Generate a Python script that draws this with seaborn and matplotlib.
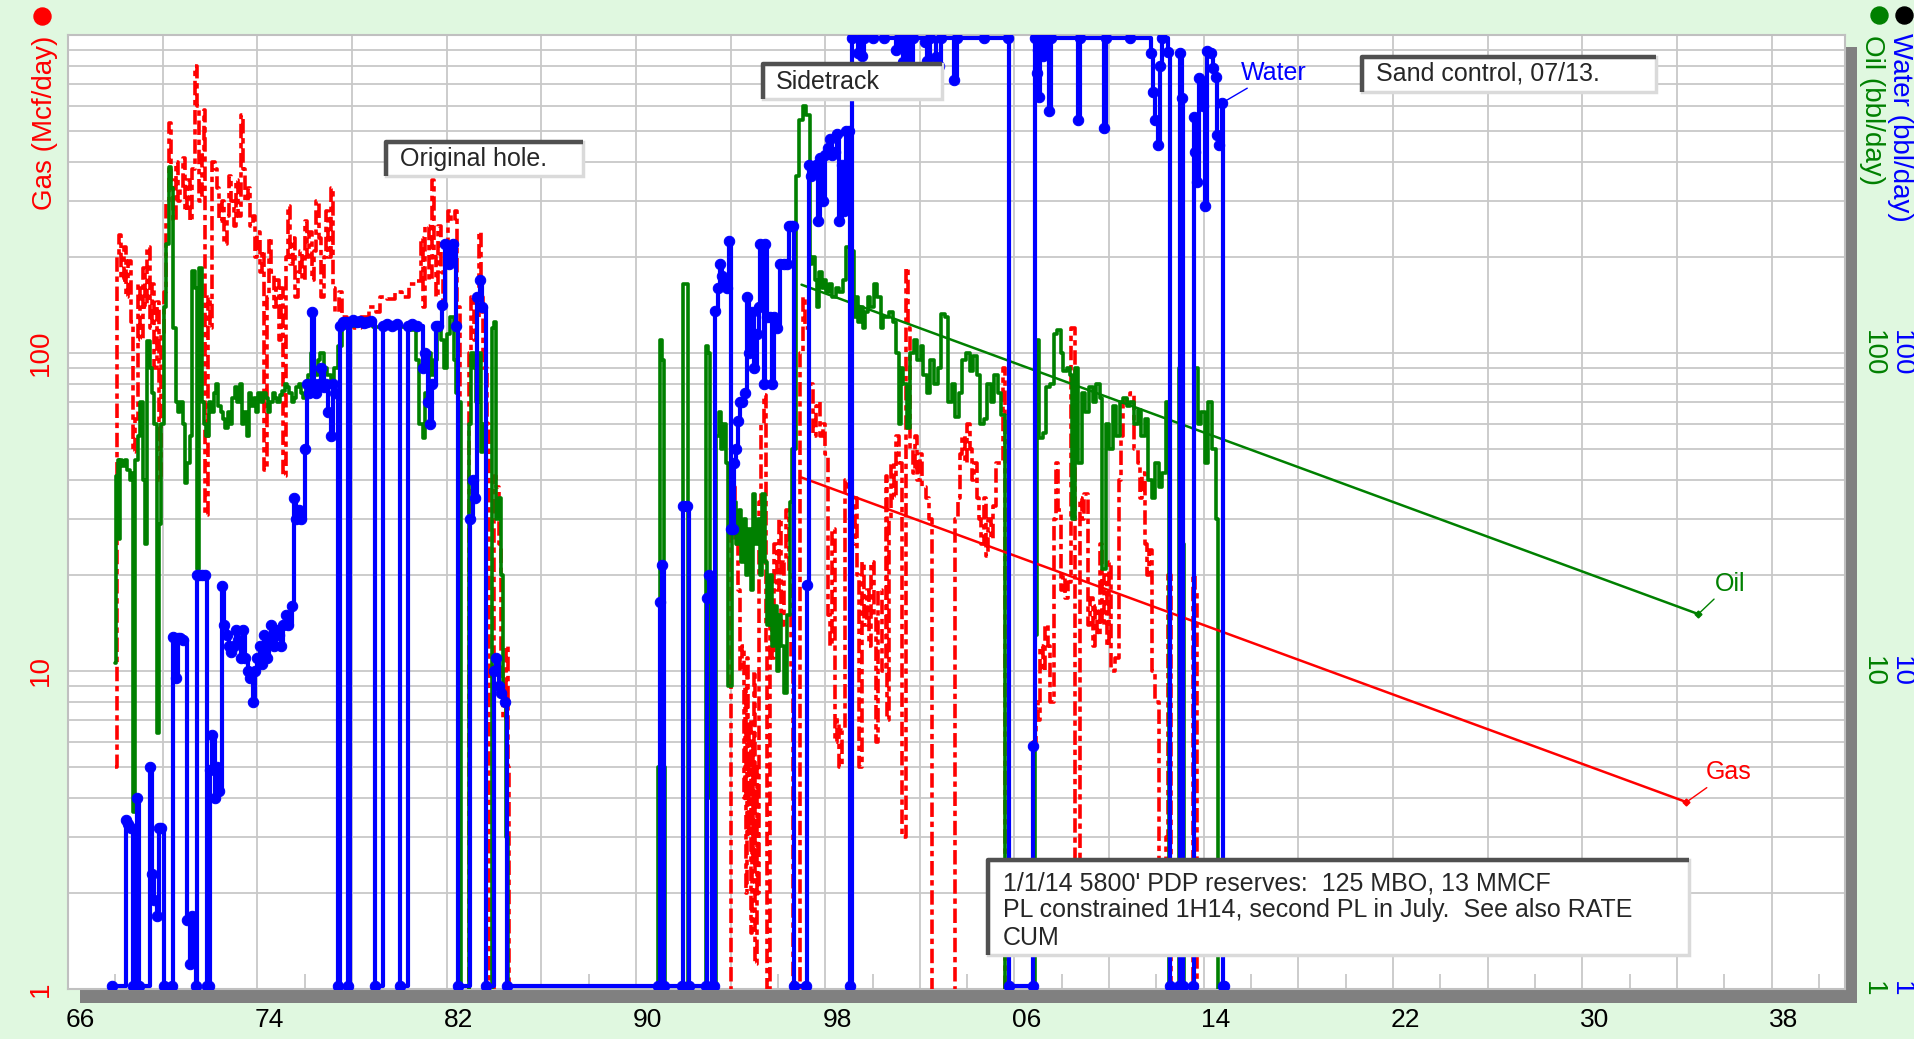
import numpy as np
import pandas as pd
import matplotlib
matplotlib.use("Agg")
import matplotlib.pyplot as plt
import seaborn as sns
from matplotlib.patches import Rectangle
from matplotlib.ticker import LogLocator, FixedLocator, NullFormatter

# ---------------- data (year, rate) ----------------
gas = [
    (1968.00, 5), (1968.05, 200), (1968.15, 235), (1968.25, 170), (1968.35, 215), (1968.45, 150),
    (1968.55, 195), (1968.65, 125), (1968.75, 49), (1968.85, 62), (1968.95, 165), (1969.05, 110),
    (1969.15, 185), (1969.25, 140), (1969.35, 215), (1969.45, 120), (1969.55, 165), (1969.65, 90),
    (1969.75, 145), (1969.85, 40), (1969.95, 115), (1970.05, 155), (1970.15, 300), (1970.25, 530),
    (1970.35, 350), (1970.45, 260), (1970.55, 400), (1970.65, 300), (1970.75, 330), (1970.85, 410),
    (1970.95, 280), (1971.05, 350), (1971.15, 260), (1971.25, 380), (1971.35, 800), (1971.45, 600),
    (1971.55, 300), (1971.65, 420), (1971.75, 580), (1971.80, 31), (1971.90, 150), (1972.00, 120),
    (1972.10, 400), (1972.20, 380), (1972.30, 330), (1972.40, 260), (1972.50, 300), (1972.60, 220),
    (1972.70, 270), (1972.80, 360), (1972.90, 300), (1973.00, 250), (1973.10, 350), (1973.20, 270),
    (1973.30, 560), (1973.40, 380), (1973.50, 300), (1973.60, 330), (1973.70, 250), (1973.80, 270),
    (1973.90, 200), (1974.00, 240), (1974.10, 180), (1974.20, 210), (1974.30, 43), (1974.40, 150),
    (1974.50, 230), (1974.60, 180), (1974.70, 140), (1974.80, 170), (1974.90, 110), (1975.00, 160),
    (1975.10, 41), (1975.20, 200), (1975.30, 290), (1975.40, 190), (1975.50, 230), (1975.60, 150),
    (1975.70, 180), (1975.80, 210), (1975.90, 170), (1976.00, 260), (1976.10, 200), (1976.20, 240),
    (1976.30, 170), (1976.40, 210), (1976.50, 300), (1976.60, 230), (1976.70, 150), (1976.80, 200),
    (1976.90, 280), (1977.00, 200), (1977.10, 330), (1977.20, 160), (1977.30, 135), (1977.45, 155),
    (1977.60, 130), (1977.80, 125), (1978.10, 120), (1978.40, 130), (1978.70, 140), (1979.00, 135),
    (1979.20, 150), (1979.50, 148), (1979.80, 155), (1980.10, 150), (1980.40, 165), (1980.70, 168),
    (1980.90, 230), (1981.00, 140), (1981.10, 250), (1981.25, 170), (1981.38, 350), (1981.45, 200),
    (1981.55, 150), (1981.65, 250), (1981.75, 180), (1981.85, 140), (1981.95, 200), (1982.05, 280),
    (1982.20, 260), (1982.35, 280), (1982.45, 140), (1982.55, 0.5), (1982.95, 100), (1983.05, 150),
    (1983.15, 110), (1983.25, 130), (1983.35, 240), (1983.45, 150), (1983.55, 90), (1983.70, 60),
    (1983.80, 0.5), (1984.00, 41), (1984.10, 38), (1984.20, 25), (1984.30, 10), (1984.40, 7),
    (1984.50, 12), (1984.60, 5), (1984.65, 0.5),
    (1993.95, 0.5), (1994.00, 30), (1994.10, 38), (1994.20, 25), (1994.30, 18), (1994.40, 10),
    (1994.50, 12), (1994.55, 4), (1994.60, 9), (1994.65, 2), (1994.70, 11), (1994.75, 3),
    (1994.80, 7), (1994.85, 1.5), (1994.90, 6), (1994.95, 2.5), (1995.00, 10), (1995.05, 1.2),
    (1995.10, 5), (1995.15, 2), (1995.20, 34), (1995.30, 60), (1995.40, 74), (1995.50, 12),
    (1995.55, 0.5), (1995.65, 14), (1995.75, 11), (1995.85, 25), (1995.95, 18), (1996.05, 30),
    (1996.15, 14), (1996.25, 22), (1996.35, 32), (1996.45, 20), (1996.55, 10), (1996.65, 0.5),
    (1996.95, 100), (1997.05, 150), (1997.15, 120), (1997.30, 80), (1997.50, 55), (1997.60, 68),
    (1997.70, 70), (1997.80, 55), (1997.90, 60), (1998.00, 48), (1998.10, 15), (1998.20, 12),
    (1998.30, 28), (1998.40, 6), (1998.50, 7), (1998.60, 5), (1998.70, 6.5), (1998.85, 40),
    (1998.95, 38), (1999.05, 40), (1999.15, 25), (1999.25, 35), (1999.35, 20), (1999.45, 5),
    (1999.55, 22), (1999.65, 14), (1999.75, 18), (1999.85, 12), (1999.95, 22), (2000.05, 15),
    (2000.15, 6), (2000.25, 18), (2000.40, 10), (2000.55, 41), (2000.60, 7), (2000.70, 30),
    (2000.80, 45), (2000.90, 35), (2001.00, 55), (2001.10, 45), (2001.25, 3), (2001.40, 185),
    (2001.50, 120), (2001.60, 50), (2001.70, 42), (2001.80, 55), (2001.90, 40), (2002.00, 48),
    (2002.10, 38), (2002.25, 35), (2002.40, 30), (2002.50, 0.5), (2003.50, 30), (2003.60, 35),
    (2003.70, 48), (2003.80, 55), (2003.90, 45), (2004.00, 60), (2004.10, 50), (2004.20, 40),
    (2004.30, 45), (2004.40, 35), (2004.50, 30), (2004.60, 25), (2004.70, 35), (2004.80, 23),
    (2004.90, 30), (2005.00, 26), (2005.10, 33), (2005.20, 45), (2005.35, 45), (2005.50, 90),
    (2005.60, 0.5),
    (2006.75, 0.5), (2006.80, 6), (2006.90, 8), (2007.00, 7), (2007.10, 12), (2007.20, 10),
    (2007.30, 14), (2007.40, 12), (2007.50, 8), (2007.65, 30), (2007.75, 45), (2007.85, 32),
    (2007.95, 18), (2008.05, 20), (2008.15, 17), (2008.25, 19), (2008.40, 120), (2008.55, 2),
    (2008.65, 1.5), (2008.75, 35), (2008.85, 30), (2008.95, 36), (2009.10, 14), (2009.20, 17),
    (2009.30, 12), (2009.40, 16), (2009.50, 13), (2009.60, 25), (2009.70, 14), (2009.80, 20),
    (2009.90, 12), (2010.00, 22), (2010.10, 10), (2010.25, 11), (2010.40, 40), (2010.50, 55),
    (2010.60, 70), (2010.75, 72), (2010.90, 75), (2011.05, 50), (2011.20, 45), (2011.30, 35),
    (2011.40, 42), (2011.50, 25), (2011.60, 20), (2011.70, 24), (2011.80, 10), (2011.95, 8),
    (2012.10, 2), (2012.25, 1.5), (2012.40, 3), (2012.50, 20), (2012.60, 0.5), (2013.55, 20),
    (2013.65, 18), (2013.70, 0.5),
]

oil = [
    (1968.00, 10.6), (1968.03, 41), (1968.10, 46), (1968.15, 26), (1968.20, 46), (1968.30, 44),
    (1968.40, 46), (1968.50, 43), (1968.60, 40), (1968.70, 42), (1968.75, 3.6), (1968.85, 46),
    (1968.95, 55), (1969.05, 70), (1969.15, 40), (1969.25, 25), (1969.35, 109), (1969.45, 90),
    (1969.55, 75), (1969.65, 60), (1969.75, 6.4), (1969.85, 29), (1969.95, 60), (1970.05, 140),
    (1970.15, 220), (1970.25, 385), (1970.35, 330), (1970.45, 120), (1970.55, 70), (1970.65, 65),
    (1970.75, 70), (1970.85, 60), (1970.95, 39), (1971.05, 45), (1971.15, 55), (1971.25, 181),
    (1971.35, 160), (1971.45, 21), (1971.55, 185), (1971.65, 70), (1971.75, 60), (1971.85, 55),
    (1971.95, 70), (1972.05, 65), (1972.15, 75), (1972.25, 80), (1972.35, 68), (1972.45, 65),
    (1972.55, 62), (1972.65, 58), (1972.75, 65), (1972.85, 60), (1972.95, 72), (1973.05, 78),
    (1973.15, 70), (1973.25, 80), (1973.35, 60), (1973.45, 65), (1973.55, 55), (1973.65, 75),
    (1973.75, 68), (1973.85, 72), (1973.95, 65), (1974.05, 75), (1974.15, 70), (1974.25, 75),
    (1974.35, 72), (1974.45, 65), (1974.55, 70), (1974.65, 75), (1974.75, 72), (1974.85, 70),
    (1974.95, 74), (1975.05, 76), (1975.15, 80), (1975.25, 78), (1975.35, 75), (1975.45, 70),
    (1975.55, 72), (1975.65, 78), (1975.75, 80), (1975.85, 75), (1975.95, 72), (1976.05, 80),
    (1976.15, 85), (1976.25, 100), (1976.35, 90), (1976.45, 85), (1976.55, 95), (1976.65, 100),
    (1976.80, 90), (1976.95, 85), (1977.10, 80), (1977.25, 90), (1977.40, 105), (1977.60, 120),
    (1977.80, 123), (1978.00, 122), (1978.30, 124), (1978.60, 123), (1978.90, 121), (1979.20, 122),
    (1979.50, 123), (1980.00, 121), (1980.40, 118), (1980.70, 95), (1980.85, 60), (1981.00, 54),
    (1981.10, 75), (1981.25, 100), (1981.35, 85), (1981.45, 95), (1981.60, 120), (1981.75, 110),
    (1981.90, 90), (1982.00, 115), (1982.15, 130), (1982.30, 95), (1982.40, 75), (1982.50, 70),
    (1982.60, 0.5), (1982.95, 60), (1983.05, 100), (1983.15, 90), (1983.25, 70), (1983.35, 100),
    (1983.45, 49), (1983.55, 60), (1983.65, 0.5), (1983.90, 120), (1984.00, 125), (1984.10, 30),
    (1984.20, 35), (1984.30, 20), (1984.40, 8), (1984.50, 3), (1984.60, 0.5),
    (1990.95, 5), (1991.00, 110), (1991.10, 95), (1991.20, 5), (1991.25, 0.5), (1992.00, 165),
    (1992.20, 0.5), (1992.95, 105), (1993.05, 100), (1993.15, 4), (1993.20, 0.5), (1993.40, 55),
    (1993.50, 65), (1993.60, 50), (1993.70, 60), (1993.80, 45), (1993.90, 9), (1994.05, 30),
    (1994.15, 34), (1994.25, 25), (1994.35, 32), (1994.45, 22), (1994.55, 30), (1994.65, 20),
    (1994.75, 28), (1994.85, 18), (1994.95, 36), (1995.05, 25), (1995.15, 30), (1995.25, 20),
    (1995.35, 36), (1995.45, 22), (1995.55, 14), (1995.65, 20), (1995.75, 12), (1995.85, 16),
    (1995.95, 10), (1996.05, 15), (1996.15, 12), (1996.25, 8.5), (1996.40, 15), (1996.50, 34),
    (1996.60, 50), (1996.75, 360), (1996.90, 540), (1997.05, 600), (1997.20, 560), (1997.35, 190),
    (1997.45, 200), (1997.55, 170), (1997.65, 140), (1997.75, 180), (1997.85, 160), (1997.95, 170),
    (1998.05, 155), (1998.15, 165), (1998.30, 150), (1998.45, 160), (1998.60, 155), (1998.75, 170),
    (1998.90, 215), (1999.05, 210), (1999.20, 130), (1999.30, 150), (1999.40, 125), (1999.50, 140),
    (1999.60, 120), (1999.70, 135), (1999.80, 150), (1999.90, 140), (2000.05, 165), (2000.20, 150),
    (2000.35, 120), (2000.45, 130), (2000.55, 130), (2000.70, 135), (2000.85, 125), (2001.00, 100),
    (2001.10, 60), (2001.20, 90), (2001.30, 80), (2001.45, 58), (2001.60, 100), (2001.75, 110),
    (2001.90, 95), (2002.05, 105), (2002.15, 85), (2002.30, 75), (2002.45, 95), (2002.60, 80),
    (2002.75, 90), (2002.90, 133), (2003.05, 130), (2003.20, 70), (2003.35, 80), (2003.50, 63),
    (2003.65, 75), (2003.80, 95), (2003.95, 100), (2004.10, 88), (2004.25, 98), (2004.40, 85),
    (2004.55, 60), (2004.70, 62), (2004.85, 80), (2005.00, 70), (2005.15, 85), (2005.30, 75),
    (2005.45, 64), (2005.60, 0.5),
    (2006.85, 13), (2006.95, 110), (2007.05, 54), (2007.20, 56), (2007.35, 78), (2007.50, 80),
    (2007.65, 115), (2007.80, 118), (2007.95, 100), (2008.05, 88), (2008.20, 90), (2008.35, 85),
    (2008.45, 30), (2008.55, 90), (2008.70, 45), (2008.85, 75), (2009.00, 65), (2009.15, 78),
    (2009.30, 70), (2009.45, 80), (2009.60, 72), (2009.70, 21), (2009.85, 60), (2010.00, 50),
    (2010.15, 68), (2010.30, 55), (2010.45, 70), (2010.60, 72), (2010.75, 68), (2010.90, 70),
    (2011.05, 60), (2011.20, 66), (2011.35, 55), (2011.50, 62), (2011.65, 40), (2011.80, 35),
    (2011.95, 45), (2012.10, 38), (2012.25, 42), (2012.40, 70), (2012.52, 0.5), (2012.95, 90),
    (2013.05, 25), (2013.15, 0.5), (2013.60, 90), (2013.75, 60), (2013.90, 65), (2014.05, 45),
    (2014.20, 70), (2014.35, 50), (2014.50, 30), (2014.60, 0.5),
]

water = [
    (1967.85, 1.02), (1968.45, 3.4), (1968.55, 3.3), (1968.65, 3.2), (1968.75, 1.02), (1968.90, 4),
    (1969.00, 1.02), (1969.45, 5), (1969.55, 2.3), (1969.65, 1.9), (1969.75, 1.7), (1969.85, 3.2),
    (1969.95, 3.2), (1970.05, 1.02), (1970.40, 1.02), (1970.45, 12.8), (1970.55, 9.5), (1970.65, 12.7),
    (1970.75, 12.7), (1970.85, 12.5), (1971.05, 1.65), (1971.15, 1.2), (1971.25, 1.7), (1971.40, 1.02),
    (1971.45, 20), (1971.55, 20), (1971.65, 20), (1971.80, 20), (1971.86, 1.02), (1971.95, 1.02),
    (1972.00, 4.9), (1972.10, 6.3), (1972.20, 4), (1972.30, 5), (1972.40, 4.2), (1972.49, 18.5),
    (1972.60, 14), (1972.70, 13), (1972.80, 12), (1972.90, 11.5), (1973.00, 12), (1973.10, 13.5),
    (1973.20, 12.5), (1973.30, 11), (1973.40, 13.5), (1973.50, 11), (1973.60, 10), (1973.70, 9.5),
    (1973.80, 8), (1973.90, 10), (1974.00, 11), (1974.10, 12), (1974.20, 10.5), (1974.30, 13),
    (1974.40, 11), (1974.50, 12.5), (1974.60, 14), (1974.70, 12), (1974.80, 13.5), (1974.90, 13),
    (1975.00, 12), (1975.10, 14), (1975.20, 15), (1975.30, 14), (1975.45, 16), (1975.55, 35),
    (1975.65, 30), (1975.75, 32), (1975.85, 30), (1976.00, 50), (1976.10, 80), (1976.20, 75),
    (1976.30, 135), (1976.40, 80), (1976.50, 75), (1976.60, 80), (1976.70, 90), (1976.80, 78),
    (1976.90, 80), (1977.00, 65), (1977.10, 55), (1977.20, 80), (1977.30, 75), (1977.43, 1.02),
    (1977.50, 122), (1977.62, 125), (1977.75, 125), (1977.82, 1.02), (1977.90, 125), (1978.05, 127),
    (1978.20, 125), (1978.35, 126), (1978.50, 124), (1978.65, 125), (1978.80, 126), (1978.98, 1.02),
    (1979.33, 122), (1979.50, 123), (1979.70, 122), (1979.90, 123), (1980.04, 1.02), (1980.36, 122),
    (1980.55, 123), (1980.75, 122), (1981.00, 90), (1981.10, 100), (1981.20, 70), (1981.30, 60),
    (1981.40, 80), (1981.55, 122), (1981.65, 122), (1981.80, 142), (1981.95, 220), (1982.10, 190),
    (1982.25, 220), (1982.40, 122), (1982.50, 1.02), (1983.00, 30), (1983.10, 40), (1983.20, 35),
    (1983.30, 150), (1983.40, 170), (1983.50, 140), (1983.65, 1.02), (1984.00, 10), (1984.10, 11),
    (1984.20, 9), (1984.30, 8.5), (1984.45, 8), (1984.55, 1.02), (1990.95, 1.02), (1991.00, 16.5),
    (1991.10, 21.5), (1991.20, 1.02), (1991.95, 1.02), (1992.00, 33), (1992.15, 33), (1992.25, 1.02),
    (1992.95, 1.02), (1993.00, 17), (1993.10, 20), (1993.20, 1.02), (1993.30, 1.02), (1993.36, 136),
    (1993.45, 160), (1993.55, 190), (1993.65, 175), (1993.75, 165), (1993.85, 160), (1993.92, 225),
    (1994.00, 28), (1994.10, 28), (1994.15, 45), (1994.25, 50), (1994.30, 61), (1994.40, 70),
    (1994.50, 70), (1994.60, 75), (1994.70, 150), (1994.80, 100), (1994.90, 135), (1995.00, 90),
    (1995.10, 115), (1995.20, 140), (1995.26, 220), (1995.40, 80), (1995.45, 220), (1995.55, 130),
    (1995.65, 130), (1995.75, 80), (1995.85, 130), (1995.95, 120), (1996.10, 190), (1996.25, 190),
    (1996.40, 190), (1996.46, 250), (1996.55, 250), (1996.65, 250), (1996.70, 1.02), (1997.20, 1.02),
    (1997.23, 18.6), (1997.30, 390), (1997.40, 360), (1997.50, 380), (1997.60, 390), (1997.70, 260),
    (1997.80, 410), (1997.90, 300), (1998.00, 420), (1998.10, 440), (1998.20, 470), (1998.30, 420),
    (1998.40, 430), (1998.50, 490), (1998.60, 260), (1998.70, 390), (1998.80, 280), (1998.90, 500),
    (1999.00, 500), (1999.06, 1.02), (1999.12, 980), (1999.40, 880), (1999.50, 980), (1999.55, 860),
    (1999.65, 980), (2000.00, 980), (2000.50, 980), (2001.00, 900), (2001.10, 980), (2001.30, 820),
    (2001.45, 980), (2001.60, 800), (2001.70, 980), (2002.20, 950), (2002.30, 830), (2002.45, 980),
    (2002.70, 850), (2002.80, 800), (2002.90, 980), (2003.45, 720), (2003.55, 980), (2004.70, 980),
    (2005.74, 980), (2005.76, 1.02), (2006.78, 1.02), (2006.80, 5.8), (2006.85, 980), (2006.95, 760),
    (2007.00, 900), (2007.05, 640), (2007.10, 980), (2007.20, 860), (2007.30, 980), (2007.45, 575),
    (2007.55, 980), (2008.70, 540), (2008.78, 980), (2009.80, 510), (2009.88, 980), (2010.90, 980),
    (2011.75, 876), (2011.85, 663), (2011.95, 540), (2012.05, 450), (2012.15, 800), (2012.25, 980),
    (2012.50, 886), (2012.58, 1.02), (2012.95, 1.02), (2013.00, 876), (2013.08, 632), (2013.12, 1.02),
    (2013.55, 1.02), (2013.60, 553), (2013.65, 430), (2013.70, 345), (2013.80, 730), (2013.95, 600),
    (2014.07, 290), (2014.15, 890), (2014.30, 876), (2014.40, 785), (2014.50, 740), (2014.55, 485),
    (2014.65, 450), (2014.75, 610), (2014.80, 1.02), (2014.85, 1.02),
]

oil_forecast_year = [1997.0, 2034.9]
oil_forecast_rate = [164, 15.1]
gas_forecast_year = [1997.0, 2034.4]
gas_forecast_rate = [40.6, 3.87]

x_label_pos = [1966.5, 1974.5, 1982.5, 1990.5, 1998.5, 2006.5, 2014.5, 2022.5, 2030.5, 2038.5]
x_labels = ["66", "74", "82", "90", "98", "06", "14", "22", "30", "38"]
y_ticks = [1, 10, 100]
y_labels = ["1", "10", "100"]

notes_box1 = "Original hole."
notes_box2 = "Sidetrack"
notes_box3 = "Sand control, 07/13."
notes_box4 = ["1/1/14 5800' PDP reserves:  125 MBO, 13 MMCF",
              "PL constrained 1H14, second PL in July.  See also RATE",
              "CUM"]

# ---------------- style ----------------
sns.set_style("white")
plt.rcParams["font.family"] = ["Liberation Sans", "DejaVu Sans"]

W, H = 1915, 1039
BG = "#E0F8E0"
GRID = "#C8C8C8"
RED, GREEN, BLUE = "#FF0000", "#008000", "#0000FF"

fig = plt.figure(figsize=(W / 100, H / 100), dpi=100, facecolor=BG)

# drop shadow of the plot frame
fig.add_artist(Rectangle((80 / W, 1 - 1003 / H), (1857 - 80) / W, (1003 - 47) / H,
                         transform=fig.transFigure, facecolor="#808080", edgecolor="none", zorder=-1))

ax = fig.add_axes([68 / W, 1 - 989 / H, (1845 - 68) / W, (989 - 35) / H])
ax.set_facecolor("white")
ax.set_yscale("log")

df_gas = pd.DataFrame(gas, columns=["year", "rate"])
df_oil = pd.DataFrame(oil, columns=["year", "rate"])
df_wat = pd.DataFrame(water, columns=["year", "rate"])
df_ofc = pd.DataFrame({"year": oil_forecast_year, "rate": oil_forecast_rate})
df_gfc = pd.DataFrame({"year": gas_forecast_year, "rate": gas_forecast_rate})

sns.lineplot(data=df_gas, x="year", y="rate", ax=ax, color=RED, linewidth=2.6,
             linestyle=(0, (4, 1.3, 1.5, 1.3)), drawstyle="steps-post", estimator=None, zorder=3)
sns.lineplot(data=df_oil, x="year", y="rate", ax=ax, color=GREEN, linewidth=2.6,
             drawstyle="steps-post", estimator=None, zorder=4)
sns.lineplot(data=df_ofc, x="year", y="rate", ax=ax, color=GREEN, linewidth=1.8,
             estimator=None, zorder=5)
sns.lineplot(data=df_gfc, x="year", y="rate", ax=ax, color=RED, linewidth=1.8,
             estimator=None, zorder=5)
sns.lineplot(data=df_wat, x="year", y="rate", ax=ax, color=BLUE, linewidth=3.0,
             drawstyle="steps-post", estimator=None, marker="o", markersize=7.5,
             markeredgecolor=BLUE, markerfacecolor=BLUE, zorder=6)

# forecast end marks
ax.plot(oil_forecast_year[-1:], oil_forecast_rate[-1:], marker="D", ms=3.5, color=GREEN, zorder=7)
ax.plot(gas_forecast_year[-1:], gas_forecast_rate[-1:], marker="D", ms=3.5, color=RED, zorder=7)

ax.annotate("Oil", xy=(oil_forecast_year[-1], oil_forecast_rate[-1]), xytext=(2035.6, 18.8),
            color=GREEN, fontsize=18, ha="left", va="center",
            arrowprops=dict(arrowstyle="-", color=GREEN, lw=1.0, shrinkA=0, shrinkB=0))
ax.annotate("Gas", xy=(gas_forecast_year[-1], gas_forecast_rate[-1]), xytext=(2035.2, 4.8),
            color=RED, fontsize=18, ha="left", va="center",
            arrowprops=dict(arrowstyle="-", color=RED, lw=1.0, shrinkA=0, shrinkB=0))
ax.annotate("Water", xy=(2014.75, 610), xytext=(2015.55, 760),
            color=BLUE, fontsize=18, ha="left", va="center",
            arrowprops=dict(arrowstyle="-", color=BLUE, lw=1.0, shrinkA=0, shrinkB=0))

# axes limits and ticks
ax.set_xlim(1966, 2041.1)
ax.set_ylim(1, 1000)
ax.set_xlabel("")
ax.set_ylabel("")

ax.xaxis.set_major_locator(FixedLocator(x_label_pos))
ax.set_xticklabels(x_labels, fontsize=19)
ax.xaxis.set_minor_locator(FixedLocator(np.arange(1966, 2041, 4)))
ax.tick_params(axis="x", which="both", length=0, pad=14, labelcolor="black")

ax.set_yticks(y_ticks)
ax.set_yticklabels(y_labels, rotation=90, va="center", color=RED, fontsize=20)
ax.yaxis.set_minor_locator(LogLocator(base=10, subs=np.arange(2, 10)))
ax.yaxis.set_minor_formatter(NullFormatter())
ax.tick_params(axis="y", which="major", length=8, color="#A0A0A0", pad=2)
ax.tick_params(axis="y", which="minor", length=0)

ax.grid(False)
ax.yaxis.grid(True, which="both", color=GRID, linewidth=1.3)
ax.xaxis.grid(True, which="minor", color=GRID, linewidth=1.3)
ax.xaxis.grid(False, which="major")
ax.set_axisbelow(True)

# short ticks at the 2-year offsets
ax.vlines(np.arange(1968, 2041, 4), 0, 0.016, transform=ax.get_xaxis_transform(),
          color=GRID, linewidth=1.3, zorder=1)

for s in ax.spines.values():
    s.set_color("#C0C0C0")
    s.set_linewidth(1.5)

# ---------------- overlay (pixel coordinates) ----------------
ov = fig.add_axes([0, 0, 1, 1], zorder=10)
ov.set_xlim(0, W)
ov.set_ylim(H, 0)
ov.axis("off")
ov.patch.set_alpha(0)

def note_box(x0, y0, x1, y1):
    ov.add_patch(Rectangle((x0, y0), x1 - x0, y1 - y0, facecolor="white",
                           edgecolor="#DADADA", linewidth=2.5))
    ov.plot([x0, x0, x1], [y1, y0, y0], color="#505050", linewidth=3.2, solid_capstyle="butt")

note_box(386, 142, 583, 176)
ov.text(400, 159, notes_box1, fontsize=18, ha="left", va="center")
note_box(763, 64, 942, 99)
ov.text(776, 82, notes_box2, fontsize=18, ha="left", va="center")
note_box(1362, 57, 1656, 92)
ov.text(1376, 74, notes_box3, fontsize=18, ha="left", va="center")
note_box(988, 860, 1689, 955)
for i, line in enumerate(notes_box4):
    ov.text(1003, 883 + 27.5 * i, line, fontsize=18, ha="left", va="center")

# axis titles
ov.text(45, 36, "Gas (Mcf/day)", color=RED, fontsize=20, rotation=90, ha="center", va="top")
ov.text(1872, 35, "Oil (bbl/day)", color=GREEN, fontsize=20, rotation=270, ha="center", va="top")
ov.text(1900, 33, "Water (bbl/day)", color=BLUE, fontsize=20, rotation=270, ha="center", va="top")

# right-hand tick labels (oil and water share the log scale)
def ypix(v):
    return 989 - 318 * np.log10(v)

for v, lab in zip(y_ticks, y_labels):
    ov.text(1873, ypix(v), lab, color=GREEN, fontsize=20, rotation=270, ha="center", va="center")
    ov.text(1901, ypix(v), lab, color=BLUE, fontsize=20, rotation=270, ha="center", va="center")

# series dots at the top corners
ov.scatter([42], [16], s=150, color=RED, zorder=11)
ov.scatter([1879], [15], s=150, color=GREEN, zorder=11)
ov.scatter([1904], [15], s=150, color="black", zorder=11)

fig.savefig("out.png", dpi=100, facecolor=BG)
